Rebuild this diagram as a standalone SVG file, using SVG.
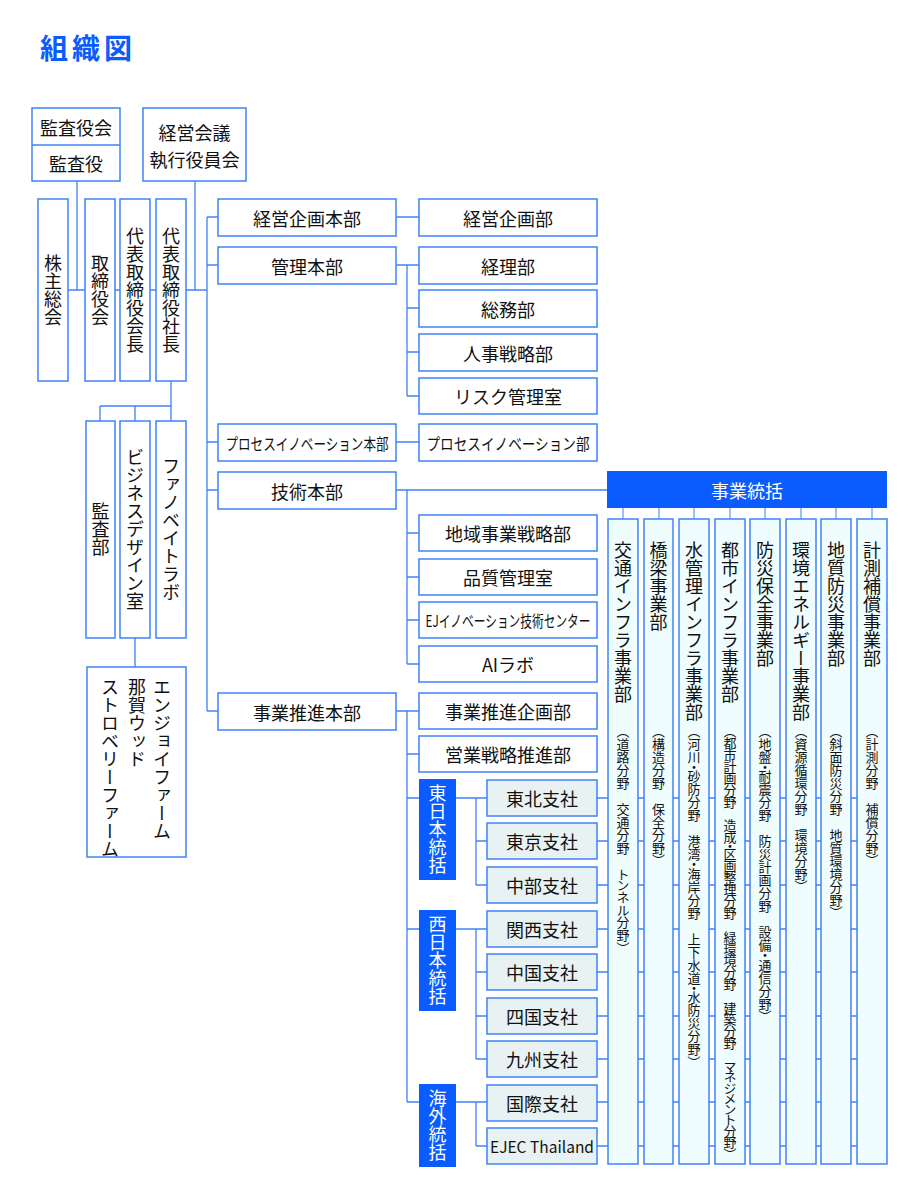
<svg xmlns="http://www.w3.org/2000/svg" width="920" height="1200" viewBox="0 0 920 1200">
<style>
text{font-family:"Noto Sans CJK JP","Noto Sans CJK SC",sans-serif;fill:#111}
.b{fill:#fff;stroke:#3f82f7;stroke-width:1.5}
.br{fill:#e9f2f2;stroke:#3f82f7;stroke-width:1.5}
.col{fill:#effdfe;stroke:#3f82f7;stroke-width:1.5}
.blue{fill:#0a5cff}
.h{font-size:18px;text-anchor:middle;dominant-baseline:central}
.v{font-size:18px;writing-mode:vertical-rl;text-anchor:middle}
.vs{font-size:18px;writing-mode:vertical-rl;text-anchor:start}
.p{font-size:13px;writing-mode:vertical-rl;text-anchor:start;font-feature-settings:"vpal"}
.w{fill:#fff}
.ln{stroke:#3f82f7;stroke-width:1.3;fill:none}
.lc{stroke:#6d9ff5;stroke-width:1.3;fill:none}
</style>
<rect width="920" height="1200" fill="#fff"/>
<text x="40" y="59" style="font-size:28px;font-weight:bold;letter-spacing:4px;fill:#0a5cff">組織図</text>

<g id="connectors">
<path class="ln" d="M77 181V290M195 181V290M68 290H207M207 217V711M207 217H218M207 265H218M207 442H218M207 490H218M207 711H218
M171 381V406M100 406H171M100 406V421M135 406V421M171 406V421M135 638V667
M396 217H419M396 265H419M407 265V396M407 308H419M407 352H419M407 396H419
M396 442H419
M396 490H607M407 490V664M407 533H419M407 577H419M407 620H419M407 664H419
M396 711H419M407 711V1102M407 754H419
M407 798H887M407 929H887M407 1102H887
M476 798V885M476 841H887M476 885H887
M476 929V1059M476 972H887M476 1016H887M476 1059H887
M476 1102V1146M476 1146H887"/>
<path class="lc" d="M623 508V519M659 508V519M694 508V519M730 508V519M765 508V519M801 508V519M836 508V519M872 508V519"/>
</g>

<g id="kansayaku"><rect class="b" x="32" y="108" width="88" height="73"/><line x1="32" y1="145" x2="120" y2="145" stroke="#3f82f7" stroke-width="1.5"/>
<text class="h" x="76" y="127">監査役会</text><text class="h" x="76" y="163">監査役</text></g>
<g id="keiei-kaigi"><rect class="b" x="143" y="108" width="103" height="73"/>
<text class="h" x="194.5" y="132">経営会議</text><text class="h" x="194.5" y="159">執行役員会</text></g>

<g id="kabunushi"><rect class="b" x="38" y="199" width="30" height="182"/><text class="v" x="53" y="290">株主総会</text></g>
<g id="torishimariyakukai"><rect class="b" x="85" y="199" width="30" height="182"/><text class="v" x="100" y="290">取締役会</text></g>
<g id="kaicho"><rect class="b" x="120" y="199" width="30" height="182"/><text class="v" x="135" y="290">代表取締役会長</text></g>
<g id="shacho"><rect class="b" x="156" y="199" width="30" height="182"/><text class="v" x="171" y="290">代表取締役社長</text></g>

<g id="kansabu"><rect class="b" x="86" y="421" width="29" height="217"/><text class="v" x="100.5" y="529.5">監査部</text></g>
<g id="business-design"><rect class="b" x="120" y="421" width="30" height="217"/><text class="v" x="135" y="529.5">ビジネスデザイン室</text></g>
<g id="fanoveight"><rect class="b" x="156" y="421" width="30" height="217"/><text class="v" x="171" y="529.5">ファノベイトラボ</text></g>
<g id="farms"><rect class="b" x="87" y="667" width="99" height="190"/>
<text class="vs" x="162" y="678">エンジョイファーム</text>
<text class="vs" x="137" y="678">那賀ウッド</text>
<text class="vs" x="110" y="678">ストロベリーファーム</text></g>

<g id="keiei-kikaku-honbu"><rect class="b" x="218" y="199" width="178" height="37"/><text class="h" x="307" y="217.5">経営企画本部</text></g>
<g id="kanri-honbu"><rect class="b" x="218" y="247" width="178" height="37"/><text class="h" x="307" y="265.5">管理本部</text></g>
<g id="process-honbu"><rect class="b" x="218" y="424" width="178" height="37"/><text class="h" x="307" y="442.5" style="font-size:16px" textLength="163" lengthAdjust="spacingAndGlyphs">プロセスイノベーション本部</text></g>
<g id="gijutsu-honbu"><rect class="b" x="218" y="472" width="178" height="37"/><text class="h" x="307" y="490.5">技術本部</text></g>
<g id="jigyo-suishin-honbu"><rect class="b" x="218" y="693" width="178" height="37"/><text class="h" x="307" y="711.5">事業推進本部</text></g>

<g id="keiei-kikaku-bu"><rect class="b" x="419" y="199" width="178" height="37"/><text class="h" x="508" y="217.5">経営企画部</text></g>
<g id="keiri"><rect class="b" x="419" y="247" width="178" height="37"/><text class="h" x="508" y="265.5">経理部</text></g>
<g id="somu"><rect class="b" x="419" y="290" width="178" height="37"/><text class="h" x="508" y="308.5">総務部</text></g>
<g id="jinji"><rect class="b" x="419" y="334" width="178" height="37"/><text class="h" x="508" y="352.5">人事戦略部</text></g>
<g id="risk"><rect class="b" x="419" y="378" width="178" height="36"/><text class="h" x="508" y="396">リスク管理室</text></g>
<g id="process-bu"><rect class="b" x="419" y="424" width="178" height="37"/><text class="h" x="508" y="442.5" style="font-size:16px" textLength="163" lengthAdjust="spacingAndGlyphs">プロセスイノベーション部</text></g>
<g id="chiiki"><rect class="b" x="419" y="515" width="178" height="36"/><text class="h" x="508" y="533">地域事業戦略部</text></g>
<g id="hinshitsu"><rect class="b" x="419" y="559" width="178" height="36"/><text class="h" x="508" y="577">品質管理室</text></g>
<g id="ej-center"><rect class="b" x="419" y="602" width="178" height="36"/><text class="h" x="508" y="620" style="font-size:16px" textLength="165" lengthAdjust="spacingAndGlyphs">EJイノベーション技術センター</text></g>
<g id="ai-lab"><rect class="b" x="419" y="646" width="178" height="36"/><text class="h" x="508" y="664">AIラボ</text></g>
<g id="jigyo-suishin-kikaku"><rect class="b" x="419" y="693" width="178" height="36"/><text class="h" x="508" y="711">事業推進企画部</text></g>
<g id="eigyo"><rect class="b" x="419" y="736" width="178" height="36"/><text class="h" x="508" y="754">営業戦略推進部</text></g>

<g id="higashi"><rect class="blue" x="419" y="779" width="37" height="101"/><text class="v w" x="437.5" y="829.5">東日本統括</text></g>
<g id="nishi"><rect class="blue" x="419" y="910" width="37" height="101"/><text class="v w" x="437.5" y="960.5">西日本統括</text></g>
<g id="kaigai"><rect class="blue" x="419" y="1084" width="37" height="83"/><text class="v w" x="437.5" y="1125.5">海外統括</text></g>

<g id="tohoku"><rect class="br" x="487" y="780" width="110" height="36"/><text class="h" x="542" y="798">東北支社</text></g>
<g id="tokyo"><rect class="br" x="487" y="823" width="110" height="36"/><text class="h" x="542" y="841">東京支社</text></g>
<g id="chubu"><rect class="br" x="487" y="867" width="110" height="36"/><text class="h" x="542" y="885">中部支社</text></g>
<g id="kansai"><rect class="br" x="487" y="911" width="110" height="36"/><text class="h" x="542" y="929">関西支社</text></g>
<g id="chugoku"><rect class="br" x="487" y="954" width="110" height="36"/><text class="h" x="542" y="972">中国支社</text></g>
<g id="shikoku"><rect class="br" x="487" y="998" width="110" height="36"/><text class="h" x="542" y="1016">四国支社</text></g>
<g id="kyushu"><rect class="br" x="487" y="1041" width="110" height="36"/><text class="h" x="542" y="1059">九州支社</text></g>
<g id="kokusai"><rect class="br" x="487" y="1085" width="110" height="36"/><text class="h" x="542" y="1103">国際支社</text></g>
<g id="ejec"><rect class="br" x="487" y="1128" width="110" height="36"/><text class="h" x="542" y="1146" style="font-size:16px" textLength="104" lengthAdjust="spacingAndGlyphs">EJEC Thailand</text></g>

<g id="jigyo-tokatsu"><rect class="blue" x="607" y="471" width="280" height="37"/><text class="h w" x="747" y="489.5">事業統括</text></g>

<g id="kotsu"><rect class="col" x="608" y="519" width="30" height="645"/><text class="vs" x="623" y="541">交通インフラ事業部</text><text class="p" x="623" y="731">（道路分野　交通分野　トンネル分野）</text></g>
<g id="kyoryo"><rect class="col" x="644" y="519" width="29" height="645"/><text class="vs" x="658.5" y="541">橋梁事業部</text><text class="p" x="658.5" y="731">（構造分野　保全分野）</text></g>
<g id="mizu"><rect class="col" x="679" y="519" width="30" height="645"/><text class="vs" x="694" y="541">水管理インフラ事業部</text><text class="p" x="694" y="731">（河川・砂防分野　港湾・海岸分野　上下水道・水防災分野）</text></g>
<g id="toshi"><rect class="col" x="715" y="519" width="30" height="645"/><text class="vs" x="730" y="541">都市インフラ事業部</text><text class="p" x="730" y="731" style="letter-spacing:-1.2px">（都市計画分野　造成・区画整理分野　緑環境分野　建築分野　マネジメント分野）</text></g>
<g id="bosai"><rect class="col" x="750" y="519" width="30" height="645"/><text class="vs" x="765" y="541">防災保全事業部</text><text class="p" x="765" y="731">（地盤・耐震分野　防災計画分野　設備・通信分野）</text></g>
<g id="kankyo"><rect class="col" x="786" y="519" width="30" height="645"/><text class="vs" x="801" y="541">環境エネルギー事業部</text><text class="p" x="801" y="731">（資源循環分野　環境分野）</text></g>
<g id="chishitsu"><rect class="col" x="821" y="519" width="30" height="645"/><text class="vs" x="836" y="541">地質防災事業部</text><text class="p" x="836" y="731">（斜面防災分野　地質環境分野）</text></g>
<g id="keisoku"><rect class="col" x="857" y="519" width="30" height="645"/><text class="vs" x="872" y="541">計測補償事業部</text><text class="p" x="872" y="731">（計測分野　補償分野）</text></g>
</svg>
